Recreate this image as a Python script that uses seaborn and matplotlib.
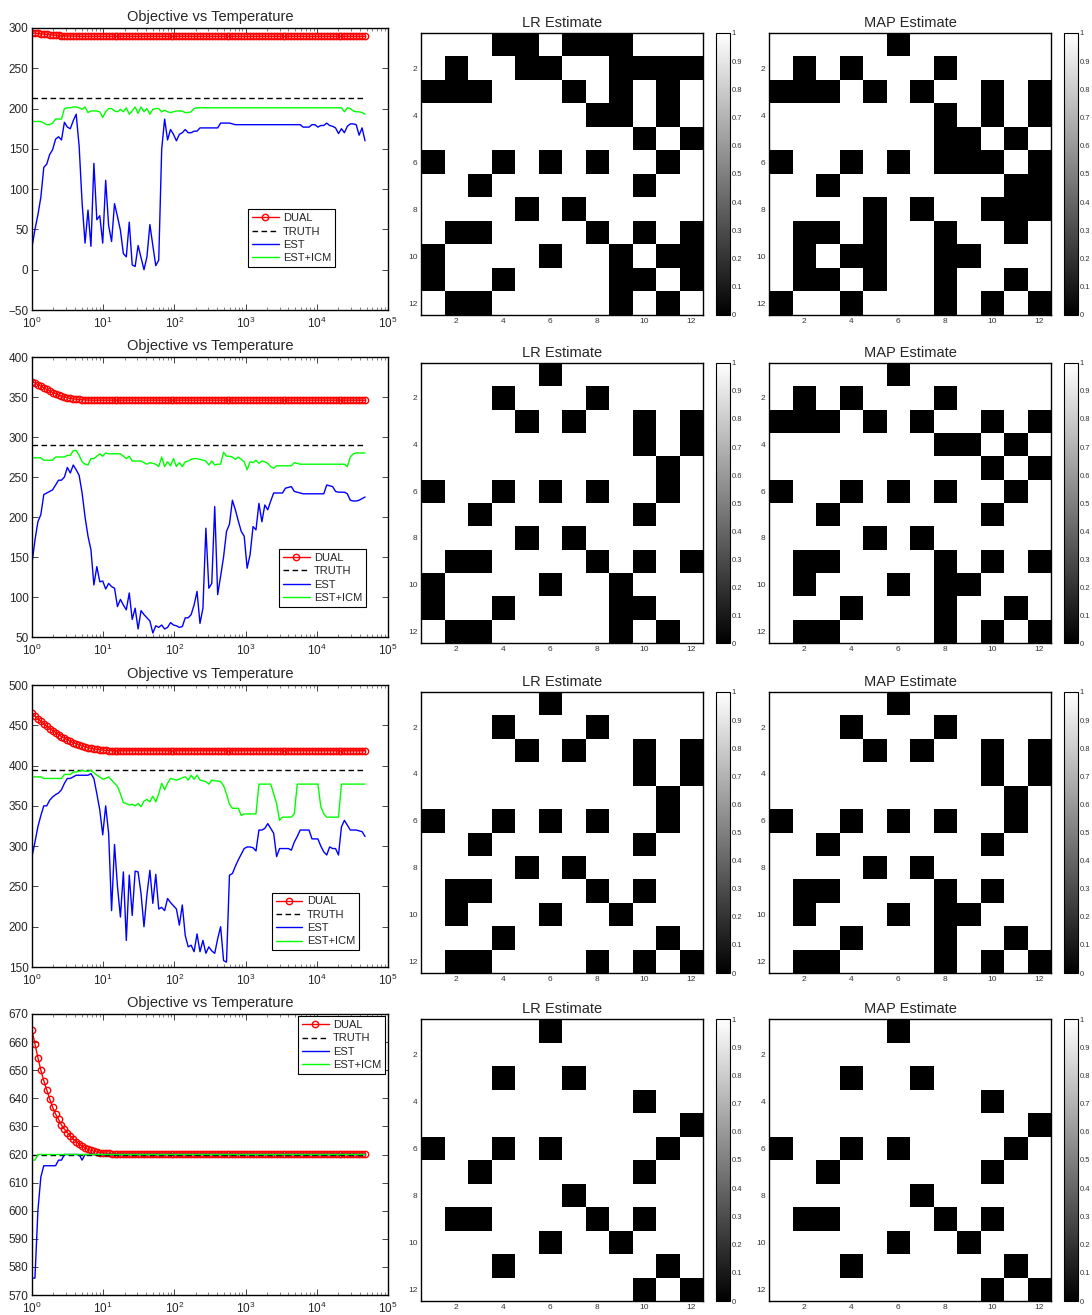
import numpy as np
import matplotlib
matplotlib.use("Agg")
import matplotlib.pyplot as plt
import seaborn as sns
from matplotlib.ticker import LogLocator, NullFormatter

# ---------------- data ----------------
# annealing temperature schedule (ratio 1.1, read from the DUAL marker spacing)
TEMPS = 1.1 ** np.arange(114)

DUAL_1 = [294.0, 293.6, 293.2, 292.8, 292.4, 292.0, 291.6, 291.3, 291.0, 290.7,
          290.5, 290.3, 290.1, 290.0, 289.9, 289.8, 289.7, 289.6, 289.6, 289.6,
          289.6, 289.6, 289.6, 289.6, 289.6, 289.6, 289.6, 289.6, 289.6, 289.6,
          289.6, 289.6, 289.6, 289.6, 289.6, 289.6, 289.6, 289.6, 289.6, 289.6,
          289.6, 289.6, 289.6, 289.6, 289.6, 289.6, 289.6, 289.6, 289.6, 289.6,
          289.6, 289.6, 289.6, 289.6, 289.6, 289.6, 289.6, 289.6, 289.6, 289.6,
          289.6, 289.6, 289.6, 289.6, 289.6, 289.6, 289.6, 289.6, 289.6, 289.6,
          289.6, 289.6, 289.6, 289.6, 289.6, 289.6, 289.6, 289.6, 289.6, 289.6,
          289.6, 289.6, 289.6, 289.6, 289.6, 289.6, 289.6, 289.6, 289.6, 289.6,
          289.6, 289.6, 289.6, 289.6, 289.6, 289.6, 289.6, 289.6, 289.6, 289.6,
          289.6, 289.6, 289.6, 289.6, 289.6, 289.6, 289.6, 289.6, 289.6, 289.6,
          289.6, 289.6, 289.6, 289.6]
EST_1 = [28, 50, 68, 90, 127, 131, 143, 149, 162, 165,
         161, 183, 177, 175, 185, 193, 153, 83, 33, 74,
         29, 132, 62, 67, 33, 111, 55, 35, 82, 66,
         49, 20, 16, 59, 6, 4, 30, 15, 0, 16,
         56, 30, 5, 12, 149, 187, 161, 174, 168, 160,
         168, 170, 174, 170, 170, 172, 172, 176, 176, 176,
         176, 176, 176, 176, 182, 182, 182, 182, 181, 180,
         180, 180, 180, 180, 180, 180, 180, 180, 180, 180,
         180, 180, 180, 180, 180, 180, 180, 180, 180, 180,
         180, 180, 177, 177, 177, 180, 180, 177, 179, 179,
         182, 179, 178, 176, 169, 175, 170, 178, 181, 181,
         180, 167, 176, 160]
ICM_1 = [184, 184, 184, 184, 182, 180, 180, 182, 187, 187,
         187, 200, 201, 201, 202, 202, 201, 199, 202, 195,
         197, 197, 197, 196, 189, 196, 200, 200, 197, 196,
         199, 196, 201, 193, 197, 202, 194, 202, 196, 200,
         193, 199, 200, 200, 196, 198, 196, 195, 196, 197,
         197, 197, 195, 195, 196, 200, 201, 201, 201, 201,
         201, 201, 201, 201, 201, 201, 201, 201, 201, 201,
         201, 201, 201, 201, 201, 201, 201, 201, 201, 201,
         201, 201, 201, 201, 201, 201, 201, 201, 201, 201,
         201, 201, 201, 201, 201, 201, 201, 201, 201, 201,
         201, 201, 201, 201, 201, 201, 196, 201, 200, 197,
         196, 196, 195, 193]

DUAL_2 = [369.0, 367.5, 365.5, 363.5, 361.5, 359.5, 357.5, 355.5, 354.0, 352.5,
          351.0, 350.0, 349.0, 348.2, 347.6, 347.2, 346.9, 346.6, 346.4, 346.2,
          346.1, 346.0, 346.0, 346.0, 346.0, 346.0, 346.0, 346.0, 346.0, 346.0,
          346.0, 346.0, 346.0, 346.0, 346.0, 346.0, 346.0, 346.0, 346.0, 346.0,
          346.0, 346.0, 346.0, 346.0, 346.0, 346.0, 346.0, 346.0, 346.0, 346.0,
          346.0, 346.0, 346.0, 346.0, 346.0, 346.0, 346.0, 346.0, 346.0, 346.0,
          346.0, 346.0, 346.0, 346.0, 346.0, 346.0, 346.0, 346.0, 346.0, 346.0,
          346.0, 346.0, 346.0, 346.0, 346.0, 346.0, 346.0, 346.0, 346.0, 346.0,
          346.0, 346.0, 346.0, 346.0, 346.0, 346.0, 346.0, 346.0, 346.0, 346.0,
          346.0, 346.0, 346.0, 346.0, 346.0, 346.0, 346.0, 346.0, 346.0, 346.0,
          346.0, 346.0, 346.0, 346.0, 346.0, 346.0, 346.0, 346.0, 346.0, 346.0,
          346.0, 346.0, 346.0, 346.0]
EST_2 = [142, 171, 194, 203, 228, 230, 232, 234, 240, 246,
         246, 250, 262, 255, 265, 259, 252, 230, 200, 176,
         159, 115, 138, 119, 120, 110, 117, 113, 111, 88,
         97, 90, 84, 105, 72, 86, 60, 83, 78, 74,
         70, 55, 64, 62, 65, 60, 62, 68, 65, 64,
         62, 63, 74, 74, 78, 90, 107, 67, 86, 186,
         111, 117, 213, 103, 126, 150, 182, 191, 221, 209,
         195, 182, 176, 136, 153, 188, 184, 217, 194, 215,
         209, 220, 230, 230, 230, 230, 236, 237, 238, 232,
         231, 230, 229, 229, 229, 229, 229, 229, 229, 229,
         240, 239, 238, 232, 231, 231, 231, 229, 221, 220,
         220, 221, 223, 225]
ICM_2 = [274, 274, 274, 274, 271, 271, 271, 271, 275, 275,
         275, 275, 277, 277, 283, 283, 277, 269, 266, 265,
         273, 273, 276, 279, 276, 280, 279, 279, 279, 279,
         279, 276, 273, 276, 270, 270, 270, 270, 268, 266,
         268, 267, 266, 263, 275, 263, 269, 264, 273, 263,
         268, 263, 269, 270, 272, 273, 273, 272, 271, 270,
         265, 270, 265, 266, 266, 281, 276, 276, 275, 272,
         275, 272, 269, 259, 269, 268, 271, 267, 270, 269,
         267, 263, 261, 264, 264, 264, 264, 264, 264, 268,
         267, 266, 266, 266, 266, 266, 266, 266, 266, 266,
         266, 266, 266, 266, 266, 266, 266, 263, 275, 279,
         280, 280, 280, 280]

DUAL_3 = [465.0, 461.5, 458.0, 455.0, 452.0, 449.0, 446.0, 443.5, 441.0, 438.5,
          436.0, 434.0, 432.0, 430.0, 428.3, 426.8, 425.4, 424.2, 423.1, 422.2,
          421.4, 420.7, 420.1, 419.6, 419.2, 418.9, 418.7, 418.5, 418.4, 418.4,
          418.4, 418.4, 418.4, 418.4, 418.4, 418.4, 418.4, 418.4, 418.4, 418.4,
          418.4, 418.4, 418.4, 418.4, 418.4, 418.4, 418.4, 418.4, 418.4, 418.4,
          418.4, 418.4, 418.4, 418.4, 418.4, 418.4, 418.4, 418.4, 418.4, 418.4,
          418.4, 418.4, 418.4, 418.4, 418.4, 418.4, 418.4, 418.4, 418.4, 418.4,
          418.4, 418.4, 418.4, 418.4, 418.4, 418.4, 418.4, 418.4, 418.4, 418.4,
          418.4, 418.4, 418.4, 418.4, 418.4, 418.4, 418.4, 418.4, 418.4, 418.4,
          418.4, 418.4, 418.4, 418.4, 418.4, 418.4, 418.4, 418.4, 418.4, 418.4,
          418.4, 418.4, 418.4, 418.4, 418.4, 418.4, 418.4, 418.4, 418.4, 418.4,
          418.4, 418.4, 418.4, 418.4]
EST_3 = [287, 305, 324, 338, 350, 350, 357, 361, 364, 366,
         370, 378, 384, 384, 386, 388, 388, 388, 388, 388,
         390, 384, 365, 345, 314, 350, 316, 220, 302, 250,
         212, 268, 183, 264, 214, 269, 268, 241, 200, 240,
         270, 229, 265, 222, 224, 220, 235, 230, 226, 222,
         202, 227, 189, 175, 177, 169, 191, 169, 183, 167,
         175, 170, 167, 185, 200, 158, 156, 264, 266, 275,
         283, 290, 297, 299, 299, 298, 294, 320, 320, 322,
         328, 322, 316, 287, 297, 297, 297, 297, 295, 305,
         312, 320, 320, 320, 320, 309, 309, 309, 300, 293,
         289, 299, 297, 297, 289, 324, 332, 326, 320, 320,
         320, 319, 318, 312]
ICM_3 = [386, 386, 386, 386, 384, 384, 384, 384, 384, 384,
         384, 389, 389, 389, 392, 392, 393, 394, 393, 393,
         394, 391, 388, 386, 383, 384, 386, 382, 378, 374,
         365, 354, 353, 351, 352, 350, 353, 349, 356, 358,
         355, 362, 355, 365, 378, 370, 378, 384, 383, 382,
         383, 385, 386, 382, 388, 383, 388, 382, 381, 380,
         377, 382, 381, 381, 380, 375, 365, 352, 347, 347,
         347, 338, 340, 340, 340, 340, 340, 377, 377, 377,
         377, 377, 365, 353, 332, 336, 336, 336, 336, 340,
         377, 377, 377, 377, 377, 377, 377, 377, 349, 340,
         336, 336, 336, 336, 336, 377, 377, 377, 377, 377,
         377, 377, 377, 377]

DUAL_4 = [664.3, 659.3, 654.5, 650.0, 646.3, 643.0, 639.8, 636.8, 634.4, 632.5,
          630.5, 629.0, 627.8, 626.6, 625.5, 624.6, 623.7, 623.0, 622.4, 621.8,
          621.5, 621.2, 620.9, 620.7, 620.6, 620.5, 620.4, 620.3, 620.3, 620.2,
          620.2, 620.2, 620.2, 620.2, 620.2, 620.2, 620.2, 620.2, 620.2, 620.2,
          620.2, 620.2, 620.2, 620.2, 620.2, 620.2, 620.2, 620.2, 620.2, 620.2,
          620.2, 620.2, 620.2, 620.2, 620.2, 620.2, 620.2, 620.2, 620.2, 620.2,
          620.2, 620.2, 620.2, 620.2, 620.2, 620.2, 620.2, 620.2, 620.2, 620.2,
          620.2, 620.2, 620.2, 620.2, 620.2, 620.2, 620.2, 620.2, 620.2, 620.2,
          620.2, 620.2, 620.2, 620.2, 620.2, 620.2, 620.2, 620.2, 620.2, 620.2,
          620.2, 620.2, 620.2, 620.2, 620.2, 620.2, 620.2, 620.2, 620.2, 620.2,
          620.2, 620.2, 620.2, 620.2, 620.2, 620.2, 620.2, 620.2, 620.2, 620.2,
          620.2, 620.2, 620.2, 620.2]
EST_4 = [576, 576, 600, 612, 616, 616, 616, 616, 616, 618,
         618, 620, 620, 620, 620, 620, 620, 618, 620, 620,
         620, 620, 620, 620, 620, 620, 620, 620, 620, 620,
         620, 620, 620, 620, 620, 620, 620, 620, 620, 620,
         620, 620, 620, 620, 620, 620, 620, 620, 620, 620,
         620, 620, 620, 620, 620, 620, 620, 620, 620, 620,
         620, 620, 620, 620, 620, 620, 620, 620, 620, 620,
         620, 620, 620, 620, 620, 620, 620, 620, 620, 620,
         620, 620, 620, 620, 620, 620, 620, 620, 620, 620,
         620, 620, 620, 620, 620, 620, 620, 620, 620, 620,
         620, 620, 620, 620, 620, 620, 620, 620, 620, 620,
         620, 620, 620, 620]
ICM_4 = [618, 618, 620, 620, 620, 620, 620, 620, 620, 620,
         620, 620, 620, 620, 620, 620, 620, 620, 620, 620,
         620, 620, 620, 620, 620, 620, 620, 620, 620, 620,
         620, 620, 620, 620, 620, 620, 620, 620, 620, 620,
         620, 620, 620, 620, 620, 620, 620, 620, 620, 620,
         620, 620, 620, 620, 620, 620, 620, 620, 620, 620,
         620, 620, 620, 620, 620, 620, 620, 620, 620, 620,
         620, 620, 620, 620, 620, 620, 620, 620, 620, 620,
         620, 620, 620, 620, 620, 620, 620, 620, 620, 620,
         620, 620, 620, 620, 620, 620, 620, 620, 620, 620,
         620, 620, 620, 620, 620, 620, 620, 620, 620, 620,
         620, 620, 620, 620]

TRUTH = [213, 290, 394, 620]
YLIMS = [(-50, 300), (50, 400), (150, 500), (570, 670)]
YSTEPS = [50, 50, 50, 10]

# 12x12 binary estimates: '1' = white (value 1), '0' = black (value 0)
LR_1 = ["111001000111", "101100110000", "000111010101", "111111100101",
        "111111111010", "011010101101", "110111111011", "111101011111",
        "100111101010", "011110110100", "011011110010", "100111110101"]
MAP_1 = ["111110111111", "101011101111", "000101011010", "111111101010",
         "111111100101", "011010100010", "110111111100", "111101011000",
         "100101101101", "101001100111", "100101101101", "011011101010"]
LR_2 = ["111110111111", "111011101111", "111101011010", "111111111010",
        "111111111101", "011010101101", "110111111011", "111101011111",
        "100111101010", "011110110111", "011011110011", "100111110101"]
MAP_2 = ["111110111111", "101011101111", "000101011010", "111111100101",
         "111111111010", "011010101101", "110111111011", "111101011111",
         "100111101010", "101110100111", "111011101101", "100111101010"]
LR_3 = ["111110111111", "111011101111", "111101011010", "111111111010",
        "111111111101", "011010101101", "110111111011", "111101011111",
        "100111101011", "101110110111", "111011111101", "100111101010"]
MAP_3 = ["111110111111", "111011101111", "111101011010", "111111111010",
         "111111111101", "011010101101", "110111111011", "111101011111",
         "100111101011", "101110100111", "111011101101", "100111101010"]
LR_4 = ["111110111111", "111111111111", "111011011111", "111111111011",
        "111111111110", "011010111101", "110111111011", "111111011111",
        "100111101011", "111110110111", "111011111101", "111111111010"]
MAP_4 = ["111110111111", "111111111111", "111011011111", "111111111011",
         "111111111110", "011010111101", "110111111011", "111111011111",
         "100111101011", "111110110111", "111011111101", "111111111010"]

HM_TICKS = [2, 4, 6, 8, 10, 12]
CB_TICKS = [0, 0.1, 0.2, 0.3, 0.4, 0.5, 0.6, 0.7, 0.8, 0.9, 1]
CB_LABELS = ["0", "0.1", "0.2", "0.3", "0.4", "0.5", "0.6", "0.7", "0.8", "0.9", "1"]
SERIES = ["DUAL", "TRUTH", "EST", "EST+ICM"]

DUALS = [DUAL_1, DUAL_2, DUAL_3, DUAL_4]
ESTS = [EST_1, EST_2, EST_3, EST_4]
ICMS = [ICM_1, ICM_2, ICM_3, ICM_4]
LRS = [LR_1, LR_2, LR_3, LR_4]
MAPS = [MAP_1, MAP_2, MAP_3, MAP_4]

# ---------------- style ----------------
sns.set_style("ticks")
plt.rcParams["font.family"] = ["Liberation Sans", "DejaVu Sans"]
plt.rcParams["axes.linewidth"] = 0.8
plt.rcParams["xtick.direction"] = "in"
plt.rcParams["ytick.direction"] = "in"
plt.rcParams["path.simplify"] = False

W, H = 1092, 1315
fig = plt.figure(figsize=(W / 100, H / 100), dpi=100)
fig.patch.set_facecolor("white")


def px_axes(l, t, r, b):
    return fig.add_axes([l / W, 1 - b / H, (r - l) / W, (b - t) / H])


LINE_BOX = [(32, 28, 388, 310), (32, 357, 388, 637), (32, 685, 388, 967), (32, 1014, 388, 1295)]
HM_TOP = [33, 363, 692, 1019]
HM_BOT = [315, 643, 973, 1301]
LEG_POS = [("lower left", (0.607, 0.152)), ("lower left", (0.694, 0.108)),
           ("lower left", (0.674, 0.059)), ("upper right", (0.992, 0.992))]


def to_matrix(rows):
    return np.array([[int(c) for c in r] for r in rows], dtype=float)


def style_heatmap(ax, cax, title):
    ax.set_title(title, fontsize=10.5, pad=4)
    pos = [t - 0.5 for t in HM_TICKS]
    ax.set_xticks(pos)
    ax.set_xticklabels([str(t) for t in HM_TICKS], rotation=0)
    ax.set_yticks(pos)
    ax.set_yticklabels([str(t) for t in HM_TICKS], rotation=0)
    ax.tick_params(axis="both", direction="in", top=True, right=True,
                   length=2.5, width=0.6, labelsize=6, pad=2.5, color="0.3",
                   labelcolor="0.2")
    for s in ax.spines.values():
        s.set_visible(True)
        s.set_color("black")
        s.set_linewidth(1.0)
    cbar = ax.collections[0].colorbar
    cbar.set_ticks(CB_TICKS)
    cbar.set_ticklabels(CB_LABELS)
    cbar.outline.set_edgecolor("black")
    cbar.outline.set_linewidth(0.8)
    cax.tick_params(direction="in", left=True, right=True, labelleft=False,
                    labelright=True, length=2, width=0.5, labelsize=5.5, pad=1,
                    color="0.4", labelcolor="0.2")


for i in range(4):
    l, t, r, b = LINE_BOX[i]
    ax = px_axes(l, t, r, b)
    sns.lineplot(x=TEMPS, y=DUALS[i], ax=ax, color="red", lw=1.0, marker="o",
                 markersize=4.6, markerfacecolor="none", markeredgecolor="red",
                 markeredgewidth=1.0, label=SERIES[0], errorbar=None)
    sns.lineplot(x=[TEMPS[0], TEMPS[-1]], y=[TRUTH[i], TRUTH[i]], ax=ax, color="black",
                 lw=1.0, linestyle=(0, (4, 2.5)), label=SERIES[1], errorbar=None)
    sns.lineplot(x=TEMPS, y=ESTS[i], ax=ax, color="blue", lw=1.0,
                 label=SERIES[2], errorbar=None)
    sns.lineplot(x=TEMPS, y=ICMS[i], ax=ax, color=(0, 1, 0), lw=1.0,
                 label=SERIES[3], errorbar=None)
    ax.set_xscale("log")
    ax.set_xlim(1, 1e5)
    ax.set_ylim(*YLIMS[i])
    ax.set_yticks(np.arange(YLIMS[i][0], YLIMS[i][1] + 0.1, YSTEPS[i]))
    ax.xaxis.set_major_locator(LogLocator(base=10, numticks=10))
    ax.xaxis.set_minor_locator(LogLocator(base=10, subs=np.arange(2, 10), numticks=50))
    ax.xaxis.set_minor_formatter(NullFormatter())
    ax.tick_params(axis="both", which="major", direction="in", top=True, right=True,
                   length=4, width=0.6, labelsize=8.5, labelcolor="0.15")
    ax.tick_params(axis="x", which="major", pad=4)
    ax.tick_params(axis="y", which="major", pad=2.5)
    ax.tick_params(axis="x", which="minor", direction="in", top=True, length=2, width=0.4)
    ax.set_xlabel("")
    ax.set_ylabel("")
    for s in ax.spines.values():
        s.set_visible(True)
        s.set_color("black")
        s.set_linewidth(1.0)
    ax.set_title("Objective vs Temperature", fontsize=10.5, pad=5)
    loc, anchor = LEG_POS[i]
    leg = ax.legend(loc=loc, bbox_to_anchor=anchor, fontsize=8, frameon=True,
                    fancybox=False, edgecolor="black", framealpha=1, borderpad=0.35,
                    labelspacing=0.3, handlelength=2.4, handletextpad=0.4,
                    borderaxespad=0, numpoints=1)
    leg.get_frame().set_linewidth(0.8)

    # LR heatmap
    ax_lr = px_axes(421, HM_TOP[i], 703, HM_BOT[i])
    cax_lr = px_axes(716, HM_TOP[i], 730, HM_BOT[i])
    sns.heatmap(to_matrix(LRS[i]), ax=ax_lr, cbar_ax=cax_lr, cmap="gray", vmin=0, vmax=1,
                xticklabels=False, yticklabels=False, linewidths=0)
    style_heatmap(ax_lr, cax_lr, "LR Estimate")

    # MAP heatmap
    ax_map = px_axes(769, HM_TOP[i], 1051, HM_BOT[i])
    cax_map = px_axes(1064, HM_TOP[i], 1078, HM_BOT[i])
    sns.heatmap(to_matrix(MAPS[i]), ax=ax_map, cbar_ax=cax_map, cmap="gray", vmin=0, vmax=1,
                xticklabels=False, yticklabels=False, linewidths=0)
    style_heatmap(ax_map, cax_map, "MAP Estimate")

fig.savefig("out.png", dpi=100, facecolor="white")
